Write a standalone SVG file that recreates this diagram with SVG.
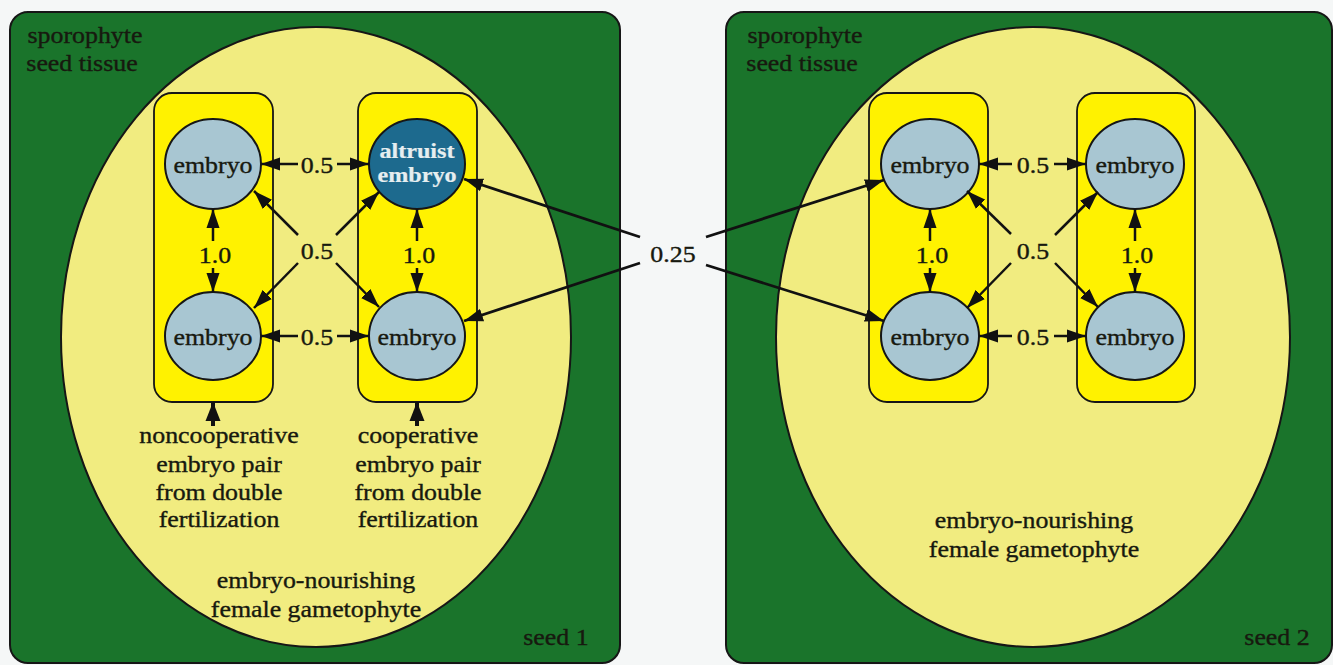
<svg xmlns="http://www.w3.org/2000/svg" width="1333" height="665" viewBox="0 0 1333 665">
<style>
.panel{fill:#1a742b;stroke:#161616;stroke-width:2}
.seed{fill:#f1ec80;stroke:#161616;stroke-width:2}
.pair{fill:#fff200;stroke:#161616;stroke-width:1.8}
.emb{fill:#a8c6d2;stroke:#161616;stroke-width:2}
.alt{fill:#1d6a8e;stroke:#161616;stroke-width:2}
.t{font-family:"Liberation Serif","Times New Roman",serif;font-size:22.5px;fill:#17190f;stroke:#17190f;stroke-width:0.35;text-anchor:middle;transform-box:fill-box;transform-origin:center;transform:scaleX(1.15)}
.tb{font-weight:bold;fill:#e6eef0;stroke:#e6eef0;stroke-width:0.2;font-size:21px}
.c{stroke:#111;stroke-width:2.5;fill:none;marker-end:url(#ah)}
.cl{stroke:#111;stroke-width:2.8;fill:none;marker-end:url(#ah)}
.cb{stroke:#111;stroke-width:4;fill:none;marker-end:url(#ahb)}
</style>
<defs>
<marker id="ah" markerUnits="userSpaceOnUse" markerWidth="20" markerHeight="14" refX="19" refY="7" orient="auto">
<path d="M0,0.5 L19,7 L0,13.5 z" fill="#111"/>
</marker>
<marker id="ahb" markerUnits="userSpaceOnUse" markerWidth="20" markerHeight="16" refX="19" refY="8" orient="auto">
<path d="M0,0.5 L19,8 L0,15.5 z" fill="#111"/>
</marker>
</defs>
<rect width="1333" height="665" fill="#f5f7f7"/>

<g id="seed1">
<rect class="panel" x="10" y="12" width="610" height="651" rx="18"/>
<ellipse class="seed" cx="316" cy="337" rx="255" ry="310"/>
<text class="t" x="85" y="43">sporophyte</text>
<text class="t" x="82" y="71">seed tissue</text>
<text class="t" x="556" y="645">seed 1</text>
<text class="t" x="316" y="588">embryo-nourishing</text>
<text class="t" x="316" y="617">female gametophyte</text>
</g>
<g id="seed2">
<rect class="panel" x="726" y="12" width="606" height="651" rx="18"/>
<ellipse class="seed" cx="1033" cy="337" rx="257" ry="310"/>
<text class="t" x="805" y="43">sporophyte</text>
<text class="t" x="802" y="71">seed tissue</text>
<text class="t" x="1277" y="645">seed 2</text>
<text class="t" x="1034" y="528">embryo-nourishing</text>
<text class="t" x="1034" y="557">female gametophyte</text>
</g>

<g id="pair-noncoop">
<rect class="pair" x="154" y="93" width="119" height="309" rx="18"/>
<text class="t" x="219" y="443">noncooperative</text>
<text class="t" x="219" y="472">embryo pair</text>
<text class="t" x="219" y="500">from double</text>
<text class="t" x="219" y="527">fertilization</text>
</g>
<g id="pair-coop">
<rect class="pair" x="358" y="93" width="119" height="309" rx="18"/>
<text class="t" x="418" y="443">cooperative</text>
<text class="t" x="418" y="472">embryo pair</text>
<text class="t" x="418" y="500">from double</text>
<text class="t" x="418" y="527">fertilization</text>
</g>
<g id="pair-s2a"><rect class="pair" x="869" y="93" width="119" height="309" rx="18"/></g>
<g id="pair-s2b"><rect class="pair" x="1077" y="93" width="118" height="309" rx="18"/></g>

<g id="e1"><ellipse class="emb" cx="213" cy="164" rx="48" ry="45"/><text class="t" x="213" y="173">embryo</text></g>
<g id="e2"><ellipse class="alt" cx="417" cy="164" rx="48" ry="45"/><text class="t tb" x="417" y="158">altruist</text><text class="t tb" x="417" y="182">embryo</text></g>
<g id="e3"><ellipse class="emb" cx="213" cy="336" rx="48" ry="44"/><text class="t" x="213" y="345">embryo</text></g>
<g id="e4"><ellipse class="emb" cx="417" cy="336" rx="48" ry="44"/><text class="t" x="417" y="345">embryo</text></g>
<g id="e5"><ellipse class="emb" cx="930" cy="164" rx="49" ry="45"/><text class="t" x="930" y="173">embryo</text></g>
<g id="e6"><ellipse class="emb" cx="1135" cy="164" rx="49" ry="45"/><text class="t" x="1135" y="173">embryo</text></g>
<g id="e7"><ellipse class="emb" cx="930" cy="336" rx="49" ry="44"/><text class="t" x="930" y="345">embryo</text></g>
<g id="e8"><ellipse class="emb" cx="1135" cy="336" rx="49" ry="44"/><text class="t" x="1135" y="345">embryo</text></g>

<g id="connectors">
<!-- seed 1 -->
<line class="c" x1="298" y1="164" x2="261" y2="164"/>
<line class="c" x1="337" y1="164" x2="369" y2="164"/>
<line class="c" x1="298" y1="336" x2="261" y2="336"/>
<line class="c" x1="337" y1="336" x2="369" y2="336"/>
<line class="c" x1="213" y1="241" x2="213" y2="209"/>
<line class="c" x1="213" y1="268" x2="213" y2="292"/>
<line class="c" x1="417" y1="241" x2="417" y2="209"/>
<line class="c" x1="417" y1="268" x2="417" y2="292"/>
<line class="c" x1="298" y1="235" x2="254" y2="191"/>
<line class="c" x1="336" y1="235" x2="379" y2="192"/>
<line class="c" x1="298" y1="263" x2="254" y2="308"/>
<line class="c" x1="336" y1="263" x2="379" y2="307"/>
<line class="cb" x1="213" y1="426" x2="213" y2="402"/>
<line class="cb" x1="417" y1="426" x2="417" y2="402"/>
<!-- seed 2 -->
<line class="c" x1="1012" y1="164" x2="979" y2="164"/>
<line class="c" x1="1054" y1="164" x2="1086" y2="164"/>
<line class="c" x1="1012" y1="336" x2="979" y2="336"/>
<line class="c" x1="1054" y1="336" x2="1086" y2="336"/>
<line class="c" x1="930" y1="241" x2="930" y2="209"/>
<line class="c" x1="930" y1="268" x2="930" y2="292"/>
<line class="c" x1="1135" y1="241" x2="1135" y2="209"/>
<line class="c" x1="1135" y1="268" x2="1135" y2="292"/>
<line class="c" x1="1011" y1="234" x2="967" y2="191"/>
<line class="c" x1="1055" y1="235" x2="1098" y2="192"/>
<line class="c" x1="1011" y1="263" x2="967" y2="308"/>
<line class="c" x1="1055" y1="263" x2="1098" y2="307"/>
<!-- between seeds -->
<line class="cl" x1="640" y1="237" x2="464" y2="179"/>
<line class="cl" x1="640" y1="263" x2="464" y2="321"/>
<line class="cl" x1="706" y1="237" x2="884" y2="180"/>
<line class="cl" x1="706" y1="265" x2="884" y2="321"/>
<!-- labels -->
<text class="t" x="317" y="173">0.5</text>
<text class="t" x="317" y="345">0.5</text>
<text class="t" x="317" y="259">0.5</text>
<text class="t" x="215" y="263">1.0</text>
<text class="t" x="419" y="263">1.0</text>
<text class="t" x="1033" y="173">0.5</text>
<text class="t" x="1033" y="345">0.5</text>
<text class="t" x="1033" y="259">0.5</text>
<text class="t" x="932" y="263">1.0</text>
<text class="t" x="1137" y="263">1.0</text>
<text class="t" x="673" y="262">0.25</text>
</g>
</svg>
